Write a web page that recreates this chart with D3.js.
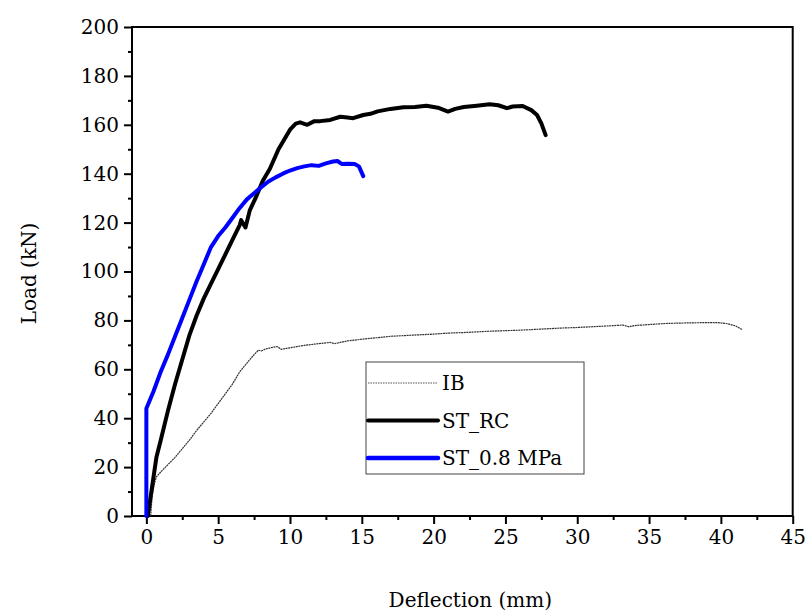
<!DOCTYPE html>
<html><head><meta charset="utf-8">
<script src="https://cdn.jsdelivr.net/npm/d3@7/dist/d3.min.js"></script>
<style>
body{margin:0;background:#fff;}
svg text{font-family:"DejaVu Serif",serif;fill:#000;}
</style></head>
<body><svg id="c" width="806" height="615"></svg>
<script>
const xTicks=[0,5,10,15,20,25,30,35,40,45];
const yTicks=[0,20,40,60,80,100,120,140,160,180,200];
const seriesNames=["IB","ST_RC","ST_0.8 MPa"];
const ibData=[[0.3,0],[0.4,8],[0.55,13],[0.7,16],[1,18],[1.5,21],[2,24],[2.5,27.5],[3,31],[3.5,35],[4,38.5],[4.5,42],[5,46],[5.5,50],[6,54],[6.5,59],[7,62.5],[7.5,66],[7.8,67.8],[8,67.5],[8.3,68.3],[8.8,69],[9.1,69.3],[9.4,68.2],[10,68.8],[11,69.8],[12,70.5],[12.8,71],[13.1,70.5],[14,71.6],[15,72.3],[16,72.9],[17,73.5],[18,73.8],[19,74.1],[20,74.4],[21,74.8],[22,75],[23,75.3],[24,75.6],[25,75.8],[26,76],[27,76.3],[28,76.6],[29,76.9],[30,77.1],[31,77.4],[32,77.7],[33.2,78.1],[33.6,77.4],[34,77.9],[35,78.3],[36,78.7],[37,78.9],[38,79],[39,79.1],[39.8,79.1],[40.5,78.6],[41,77.8],[41.5,76.2]];
const rcData=[[0.1,0],[0.3,8],[0.5,16],[0.7,24],[1,31],[1.5,43],[2,54],[2.5,64],[3,74],[3.5,82],[4,89],[4.5,95],[5,101],[5.5,107],[6,113],[6.5,119],[6.6,121],[6.9,118],[7.2,125],[7.6,130],[8.1,137],[8.6,142],[9.2,150],[9.6,154],[10,158],[10.4,160.5],[10.7,161],[11.2,160],[11.7,161.5],[12.1,161.5],[12.8,162],[13.5,163.3],[14,163],[14.4,162.7],[15.1,164],[15.6,164.5],[16.1,165.5],[17,166.5],[17.9,167.2],[18.7,167.3],[19.5,167.8],[20.3,167],[21,165.4],[21.5,166.5],[22.1,167.3],[23,167.8],[23.9,168.4],[24.5,168],[25.1,166.8],[25.5,167.5],[26.2,167.7],[26.8,166],[27.2,164],[27.5,160.6],[27.8,155.8]];
const mpaData=[[0,0],[0,44],[0.5,51],[1,59],[1.5,66],[2,73.5],[2.5,81],[3,88.5],[3.5,96],[4,103],[4.5,110],[5,114.5],[5.5,118],[6,122],[6.5,126],[7,129.5],[7.5,132],[8,134.5],[8.5,136.8],[9,138.5],[9.5,140],[10,141.3],[10.5,142.3],[11,143],[11.5,143.5],[12,143.2],[12.5,144.2],[13,145],[13.3,145.2],[13.6,144],[14,144.1],[14.5,144],[14.8,143],[15.1,139]];

const svg=d3.select("#c");
const L=132,R=792.7,T=27,B=516;
const x=d3.scaleLinear().domain([-1,45]).range([L,R]);
const y=d3.scaleLinear().domain([0,200]).range([B,T]);
const FS=20;

// frame
svg.append("rect").attr("x",L).attr("y",T).attr("width",R-L).attr("height",B-T)
  .attr("fill","none").attr("stroke","#000").attr("stroke-width",2);

// x axis
const xa=svg.append("g").attr("transform",`translate(0,${B})`)
  .call(d3.axisBottom(x).tickValues(xTicks).tickSize(8).tickSizeOuter(0).tickPadding(6));
xa.select(".domain").remove();
xa.selectAll("line").attr("stroke-width",2);
xa.selectAll("text").attr("font-size",FS).style("font-family","'DejaVu Serif',serif");
const xm=svg.append("g").attr("transform",`translate(0,${B})`)
  .call(d3.axisBottom(x).tickValues(d3.range(2.5,45,5)).tickSize(4).tickFormat(""));
xm.select(".domain").remove(); xm.selectAll("line").attr("stroke-width",2);

// y axis
const ya=svg.append("g").attr("transform",`translate(${L},0)`)
  .call(d3.axisLeft(y).tickValues(yTicks).tickSize(8).tickSizeOuter(0).tickPadding(5));
ya.select(".domain").remove();
ya.selectAll("line").attr("stroke-width",2);
ya.selectAll("text").attr("font-size",FS).style("font-family","'DejaVu Serif',serif");
const ym=svg.append("g").attr("transform",`translate(${L},0)`)
  .call(d3.axisLeft(y).tickValues(d3.range(10,200,20)).tickSize(4).tickFormat(""));
ym.select(".domain").remove(); ym.selectAll("line").attr("stroke-width",2);

// labels
svg.append("text").attr("x",(L+R)/2+8).attr("y",607).attr("text-anchor","middle").attr("font-size",FS).text("Deflection (mm)");
svg.append("text").attr("transform",`translate(36,${(T+B)/2+2}) rotate(-90)`).attr("text-anchor","middle").attr("font-size",FS).text("Load (kN)");

const line=d3.line().x(d=>x(d[0])).y(d=>y(d[1]));
const clipG=svg.append("g");
clipG.append("path").datum(ibData).attr("d",line).attr("fill","none").attr("stroke","#333").attr("stroke-width",1.2).attr("stroke-dasharray","2,0.6");
clipG.append("path").datum(rcData).attr("d",line).attr("fill","none").attr("stroke","#000").attr("stroke-width",4).attr("stroke-linejoin","round").attr("stroke-linecap","round");
clipG.append("path").datum(mpaData).attr("d",line).attr("fill","none").attr("stroke","#0000ff").attr("stroke-width",4).attr("stroke-linejoin","round").attr("stroke-linecap","round");

// legend
const lg=svg.append("g");
lg.append("rect").attr("x",366).attr("y",362).attr("width",218).attr("height",112).attr("fill","#fff").attr("stroke","#444").attr("stroke-width",1);
const styles=[{c:"#555",w:1,da:"1.5,1"},{c:"#000",w:4,da:null},{c:"#0000ff",w:4.5,da:null}];
seriesNames.forEach((n,i)=>{
  const yy=383+i*37.5;
  lg.append("line").attr("x1",368).attr("x2",438).attr("y1",yy).attr("y2",yy)
    .attr("stroke",styles[i].c).attr("stroke-width",styles[i].w).attr("stroke-dasharray",styles[i].da).attr("stroke-linecap",i?"round":"butt");
  lg.append("text").attr("x",442).attr("y",yy+7).attr("font-size",FS).text(n);
});
</script></body></html>
